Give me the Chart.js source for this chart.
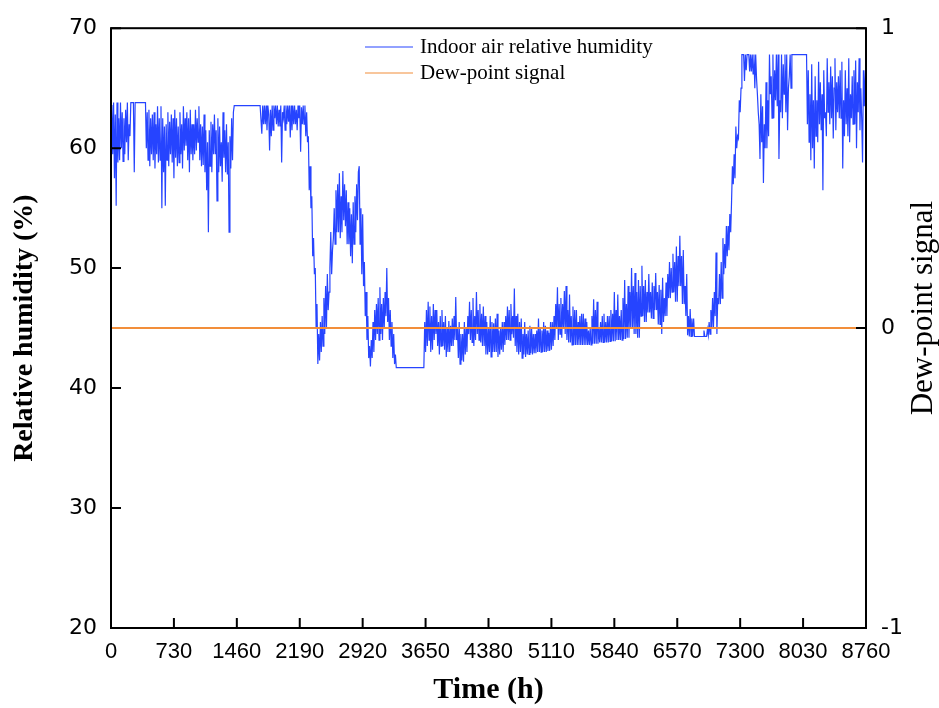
<!DOCTYPE html>
<html>
<head>
<meta charset="utf-8">
<title>Indoor air relative humidity</title>
<script src="https://cdn.jsdelivr.net/npm/chart.js@4.4.1/dist/chart.umd.min.js"></script>
<style>
  html, body { margin: 0; padding: 0; background: #fff; }
  #wrap { width: 939px; height: 708px; }
</style>
</head>
<body>
<div id="wrap"><canvas id="myChart" width="939" height="708"></canvas></div>
<script>
// one reading every 10 h over the year, 24 readings per row
const stepHours = 10
const humidity = [
    60.2, 63.6, 59.5, 63.8, 57.5, 62.8, 55.2, 63.8, 58.8, 62.5, 59.0, 63.8, 60.0, 63.0, 58.9, 62.5, 59.5, 63.2, 60.5, 63.8, 59.0, 62.0, 61.0, 63.8, // 0
    63.8, 63.8, 63.8, 58.0, 63.8, 63.8, 63.8, 63.8, 63.8, 63.8, 63.8, 63.8, 63.8, 63.8, 63.8, 63.8, 63.8, 60.0, 63.0, 59.0, 63.2, 58.5, 62.5, 59.5, // 240
    62.8, 59.0, 63.0, 58.3, 62.0, 59.5, 63.5, 58.8, 62.5, 59.0, 63.5, 55.0, 62.5, 58.0, 61.8, 55.2, 62.0, 59.0, 63.0, 58.5, 62.2, 59.5, 62.8, 58.8, // 480
    62.5, 57.5, 63.2, 59.2, 62.5, 58.5, 61.8, 58.8, 63.0, 59.5, 62.0, 58.3, 63.5, 59.8, 62.5, 60.2, 63.0, 59.0, 62.5, 58.0, 63.2, 59.5, 62.0, 59.0, // 720
    62.0, 59.5, 63.2, 59.8, 62.5, 60.5, 63.5, 59.0, 62.0, 58.5, 61.8, 58.6, 62.8, 58.0, 61.5, 56.5, 60.5, 53.0, 61.5, 58.5, 62.2, 58.0, 62.0, 59.5, // 960
    62.8, 59.5, 61.5, 55.6, 62.5, 58.0, 61.8, 58.5, 60.5, 57.2, 63.0, 59.2, 61.5, 58.0, 62.0, 57.8, 60.5, 53.0, 61.0, 58.3, 62.5, 59.0, 63.0, 63.55, // 1200
    63.55, 63.55, 63.55, 63.55, 63.55, 63.55, 63.55, 63.55, 63.55, 63.55, 63.55, 63.55, 63.55, 63.55, 63.55, 63.55, 63.55, 63.55, 63.55, 63.55, 63.55, 63.55, 63.55, 63.55, // 1440
    63.55, 63.55, 63.55, 63.55, 63.55, 63.55, 63.55, 61.2, 63.55, 62.0, 63.55, 62.0, 63.55, 61.5, 63.55, 62.8, 59.8, 63.2, 61.0, 63.55, 61.5, 63.55, 62.5, 63.55, // 1680
    62.0, 63.55, 61.8, 63.2, 61.8, 63.55, 58.8, 63.0, 62.5, 63.55, 61.5, 63.55, 62.0, 63.55, 62.2, 63.55, 60.9, 63.55, 61.5, 63.55, 62.0, 63.55, 62.0, 63.2, // 1920
    61.5, 63.55, 62.5, 63.55, 59.7, 63.4, 62.0, 63.55, 62.0, 63.55, 61.0, 63.0, 60.5, 61.0, 56.5, 58.5, 55.0, 56.0, 51.0, 52.5, 49.5, 50.0, 45.0, 47.0, // 2160
    42.0, 44.5, 42.3, 45.5, 43.0, 46.0, 43.5, 47.5, 44.5, 48.5, 45.0, 49.5, 46.5, 48.0, 50.0, 53.0, 49.5, 51.5, 52.5, 55.0, 52.0, 56.5, 53.0, 57.0, // 2400
    53.0, 57.9, 52.5, 56.0, 53.0, 58.1, 54.0, 57.0, 53.5, 56.5, 52.0, 55.5, 52.0, 55.0, 51.0, 54.5, 50.4, 55.5, 52.0, 56.0, 53.0, 57.0, 54.0, 58.0, // 2640
    58.5, 52.0, 55.0, 49.5, 54.5, 48.5, 50.5, 46.0, 48.0, 44.0, 46.0, 42.5, 43.5, 41.8, 44.0, 42.5, 45.5, 43.0, 46.5, 44.0, 47.0, 44.5, 47.5, 44.0, // 2880
    48.4, 44.5, 47.0, 44.0, 47.5, 45.0, 48.0, 46.0, 50.0, 45.5, 47.5, 44.0, 46.5, 43.5, 45.5, 42.5, 44.5, 42.0, 42.8, 41.7, 41.7, 41.7, 41.7, 41.7, // 3120
    41.7, 41.7, 41.7, 41.7, 41.7, 41.7, 41.7, 41.7, 41.7, 41.7, 41.7, 41.7, 41.7, 41.7, 41.7, 41.7, 41.7, 41.7, 41.7, 41.7, 41.7, 41.7, 41.7, 41.7, // 3360
    41.7, 41.7, 41.7, 41.7, 45.5, 43.0, 46.5, 43.5, 47.2, 44.0, 46.8, 43.0, 46.0, 43.2, 47.0, 44.0, 46.5, 44.5, 46.5, 43.5, 45.5, 42.8, 46.0, 43.5, // 3600
    46.5, 43.5, 45.5, 43.2, 46.0, 42.6, 45.0, 43.0, 45.6, 43.0, 45.2, 43.5, 45.8, 43.5, 46.0, 44.0, 47.6, 44.0, 45.0, 42.5, 45.5, 42.0, 44.5, 42.3, // 3840
    44.5, 42.2, 45.5, 42.8, 45.0, 43.0, 46.0, 44.5, 47.2, 44.0, 46.5, 43.8, 47.5, 43.5, 46.0, 44.0, 48.0, 44.5, 46.5, 44.0, 47.0, 43.8, 46.2, 43.5, // 4080
    46.8, 43.5, 46.0, 42.8, 45.5, 42.8, 45.0, 43.0, 46.0, 42.6, 45.5, 43.0, 45.4, 43.0, 45.8, 43.0, 46.2, 42.6, 44.8, 42.8, 45.0, 43.2, 45.5, 43.0, // 4320
    45.5, 43.6, 46.0, 44.0, 46.8, 44.0, 46.5, 44.0, 47.0, 44.5, 46.0, 44.2, 48.3, 43.5, 46.0, 43.0, 46.2, 42.8, 45.5, 43.0, 45.8, 42.5, 44.5, 42.8, // 4560
    45.5, 42.6, 44.5, 42.8, 44.8, 42.8, 45.2, 42.9, 45.0, 42.8, 44.5, 42.9, 44.5, 42.9, 44.8, 43.0, 45.8, 43.0, 45.0, 43.0, 44.8, 43.0, 45.5, 43.0, // 4800
    45.2, 43.0, 44.8, 43.1, 44.6, 43.1, 45.5, 43.2, 45.5, 43.5, 46.0, 44.0, 47.0, 45.0, 48.4, 44.0, 47.0, 44.5, 47.5, 44.2, 47.0, 45.0, 48.1, 44.5, // 5040
    48.5, 44.0, 46.5, 43.8, 47.8, 43.8, 46.0, 43.6, 46.8, 43.6, 46.5, 43.6, 46.5, 43.6, 45.5, 43.6, 46.0, 43.6, 46.2, 43.6, 46.2, 43.6, 45.8, 43.6, // 5280
    45.5, 43.6, 44.8, 43.6, 45.0, 43.6, 46.0, 43.7, 47.4, 43.7, 46.5, 43.7, 47.2, 43.7, 45.0, 43.8, 45.5, 43.8, 46.0, 43.8, 46.2, 43.8, 45.5, 43.8, // 5520
    46.0, 43.8, 46.0, 43.9, 46.5, 43.9, 46.2, 43.9, 48.0, 43.9, 46.5, 44.0, 47.8, 44.0, 46.0, 44.0, 46.5, 44.0, 47.5, 44.1, 49.0, 44.1, 47.0, 44.2, // 5760
    48.5, 44.2, 48.0, 45.0, 50.0, 45.0, 48.5, 44.5, 49.6, 44.5, 48.0, 44.2, 49.0, 44.2, 48.5, 46.0, 50.2, 46.0, 48.5, 45.5, 49.0, 45.5, 48.0, 46.3, // 6000
    49.5, 46.3, 48.0, 45.8, 48.8, 45.8, 48.5, 46.5, 49.6, 46.5, 48.0, 45.3, 48.6, 45.3, 48.2, 44.5, 49.2, 45.5, 47.5, 46.0, 48.8, 46.0, 49.5, 47.5, // 6240
    50.5, 47.5, 50.0, 48.0, 51.2, 48.0, 50.5, 47.2, 51.8, 47.2, 51.0, 48.5, 52.7, 48.5, 51.0, 47.0, 51.5, 47.0, 48.5, 46.0, 49.5, 44.4, 46.0, 44.3, // 6480
    46.6, 44.3, 45.8, 44.3, 45.8, 44.3, 44.3, 44.3, 44.3, 44.3, 44.3, 44.3, 44.3, 44.3, 44.3, 44.3, 44.8, 44.3, 44.3, 44.3, 44.9, 44.4, 45.5, 44.5, // 6720
    46.5, 45.0, 47.5, 45.0, 48.0, 46.0, 51.3, 44.5, 47.5, 47.0, 49.5, 47.0, 50.5, 47.5, 52.5, 49.5, 52.0, 50.0, 53.5, 51.0, 53.5, 51.5, 54.5, 53.0, // 6960
    55.5, 58.5, 57.0, 59.5, 57.5, 61.8, 60.0, 61.0, 60.8, 64.0, 63.0, 65.0, 67.8, 67.8, 67.8, 65.6, 67.8, 66.5, 67.8, 67.8, 67.8, 66.4, 67.8, 66.4, // 7200
    67.8, 66.2, 67.8, 65.0, 67.8, 65.8, 64.5, 63.0, 62.0, 59.1, 64.5, 60.5, 63.5, 57.1, 62.0, 60.0, 65.5, 60.0, 64.0, 61.0, 67.8, 64.5, 66.0, 62.5, // 7440
    67.8, 62.5, 66.5, 64.0, 67.8, 63.5, 67.8, 59.1, 64.0, 63.0, 67.8, 62.5, 67.0, 64.5, 67.8, 63.0, 67.8, 61.5, 65.0, 66.0, 67.8, 65.0, 67.8, 67.8, // 7680
    67.8, 67.8, 67.8, 67.8, 67.8, 67.8, 67.8, 67.8, 67.8, 67.8, 67.8, 67.8, 67.8, 67.8, 67.8, 67.8, 62.0, 66.5, 60.5, 64.5, 59.0, 67.0, 60.0, 64.0, // 7920
    58.3, 66.0, 61.0, 64.0, 60.5, 67.2, 62.0, 65.5, 61.5, 64.5, 56.5, 66.5, 62.5, 63.0, 61.0, 67.5, 63.0, 65.5, 62.0, 66.8, 62.5, 66.0, 60.8, 65.0, // 8160
    67.5, 61.5, 65.5, 63.0, 66.0, 62.5, 66.5, 62.5, 67.2, 58.3, 64.0, 61.0, 66.5, 62.0, 65.0, 61.0, 67.5, 60.5, 64.5, 62.5, 66.0, 62.0, 66.5, 62.0, // 8400
    67.3, 60.0, 65.5, 63.0, 67.5, 61.5, 65.0, 62.5, 58.8, 66.5, 63.5, 66.5, 61.5                                                                  // 8640
]
const dewPointHours = [0, 8760]
const dewPointSignal = [0, 0]

const timeTicks = [0, 730, 1460, 2190, 2920, 3650, 4380, 5110, 5840, 6570, 7300, 8030, 8760]
const humidityTicks = [20, 30, 40, 50, 60, 70]
const signalTicks = [-1, 0, 1]

const blue = 'rgb(38, 68, 255)'
const orange = 'rgb(242, 142, 58)'
const serif = '"Liberation Serif", "Times New Roman", serif'

// frame, inward tick marks, legend and the right-hand title
const framePlugin = {
    id: 'framePlugin',
    afterDraw(chart) {
        const { ctx, chartArea: a, scales } = chart
        ctx.save()
        ctx.strokeStyle = '#000'
        ctx.lineWidth = 2
        ctx.strokeRect(a.left, a.top, a.right - a.left, a.bottom - a.top)

        ctx.beginPath()
        timeTicks.forEach(v => {
            const x = scales.x.getPixelForValue(v)
            ctx.moveTo(x, a.bottom)
            ctx.lineTo(x, a.bottom - 10)
        })
        humidityTicks.forEach(v => {
            const y = scales.y.getPixelForValue(v)
            ctx.moveTo(a.left, y)
            ctx.lineTo(a.left + 10, y)
        })
        signalTicks.forEach(v => {
            const y = scales.y1.getPixelForValue(v)
            ctx.moveTo(a.right, y)
            ctx.lineTo(a.right - 10, y)
        })
        ctx.stroke()

        // legend
        ctx.font = '21px ' + serif
        ctx.textAlign = 'left'
        ctx.textBaseline = 'middle'
        ctx.fillStyle = '#000'
        chart.data.datasets.forEach((ds, i) => {
            const y = 47 + i * 26
            ctx.strokeStyle = ds.borderColor
            ctx.lineWidth = 1.2
            ctx.beginPath()
            ctx.moveTo(365, y)
            ctx.lineTo(413, y)
            ctx.stroke()
            ctx.fillText(ds.label, 420, y)
        })

        ctx.translate(924, (a.top + a.bottom) / 2 - 20)
        ctx.rotate(-Math.PI / 2)
        ctx.font = '31px ' + serif
        ctx.textAlign = 'center'
        ctx.fillText('Dew-point signal', 0, 0)
        ctx.restore()
    }
}

const ctx = document.getElementById('myChart')
new Chart(ctx, {
    type: 'line',
    data: {
        datasets: [
            {
                label: 'Indoor air relative humidity',
                data: humidity.map((h, i) => ({ x: i * stepHours, y: h })),
                borderColor: blue,
                borderWidth: 1.2,
                pointRadius: 0,
                tension: 0,
                yAxisID: 'y',
                order: 2
            },
            {
                label: 'Dew-point signal',
                data: dewPointHours.map((t, i) => ({ x: t, y: dewPointSignal[i] })),
                borderColor: orange,
                borderWidth: 2,
                pointRadius: 0,
                yAxisID: 'y1',
                order: 1
            }
        ]
    },
    options: {
        responsive: false,
        animation: false,
        events: [],
        layout: { padding: { top: 18, left: 0, right: 0, bottom: 0 } },
        plugins: { legend: { display: false }, tooltip: { enabled: false } },
        scales: {
            x: {
                type: 'linear',
                min: 0,
                max: 8760,
                afterBuildTicks: s => { s.ticks = timeTicks.map(v => ({ value: v })) },
                afterFit: s => { s.height = 80 },
                grid: { display: false, drawTicks: false },
                border: { display: false },
                ticks: {
                    color: '#000',
                    padding: 11,
                    maxRotation: 0,
                    autoSkip: false,
                    callback: v => String(v),
                    font: { family: '"Liberation Sans", Arial, sans-serif', size: 22 }
                },
                title: {
                    display: true,
                    text: 'Time (h)',
                    color: '#000',
                    padding: { top: 0, bottom: 0 },
                    font: { family: serif, size: 30, weight: 'bold' }
                }
            },
            y: {
                position: 'left',
                min: 20,
                max: 70,
                afterBuildTicks: s => { s.ticks = humidityTicks.map(v => ({ value: v })) },
                afterFit: s => { s.width = 111 },
                grid: { display: false, drawTicks: false },
                border: { display: false },
                ticks: {
                    color: '#000',
                    padding: 14,
                    font: { family: '"DejaVu Sans", sans-serif', size: 22 }
                },
                title: {
                    display: true,
                    text: 'Relative humidity (%)',
                    color: '#000',
                    padding: { top: 8, bottom: 0 },
                    font: { family: serif, size: 28, weight: 'bold' }
                }
            },
            y1: {
                position: 'right',
                min: -1,
                max: 1,
                afterBuildTicks: s => { s.ticks = signalTicks.map(v => ({ value: v })) },
                afterFit: s => { s.width = 73 },
                grid: { display: false, drawTicks: false },
                border: { display: false },
                ticks: {
                    color: '#000',
                    padding: 15,
                    font: { family: '"DejaVu Sans", sans-serif', size: 22 }
                }
            }
        }
    },
    plugins: [framePlugin]
})
</script>
</body>
</html>
